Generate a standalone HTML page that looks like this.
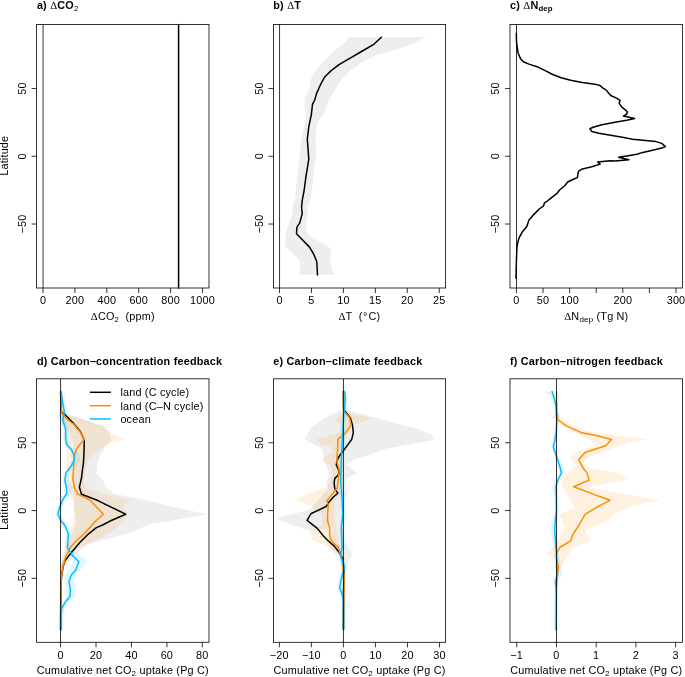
<!DOCTYPE html>
<html><head><meta charset="utf-8"><style>
html,body{margin:0;padding:0;background:#fff;overflow:hidden;width:685px;height:677px;}
svg{display:block;will-change:transform;}
.t{font-family:"Liberation Sans",sans-serif;font-size:10.85px;fill:#000;letter-spacing:0.19px;}
.b{font-family:"Liberation Sans",sans-serif;font-size:10.85px;font-weight:bold;fill:#000;letter-spacing:0.2px;}
.s{font-family:"Liberation Serif",serif;}
</style></head><body>
<svg width="685" height="677" viewBox="0 0 685 677">
<rect width="685" height="677" fill="#fff"/>
<text x="36.9" y="8.8" class="b">a) <tspan class="s" font-weight="normal">Δ</tspan>CO<tspan font-weight="normal" font-size="8px" dy="2">2</tspan></text>
<text x="273.3" y="8.8" class="b">b) <tspan class="s" font-weight="normal">Δ</tspan>T</text>
<text x="510.0" y="8.8" class="b">c) <tspan class="s" font-weight="normal">Δ</tspan>N<tspan font-size="7.8px" dy="2" letter-spacing="0.1px">dep</tspan></text>
<text x="36.9" y="364.5" class="b">d) Carbon–concentration feedback</text>
<text x="273.3" y="364.5" class="b">e) Carbon–climate feedback</text>
<text x="510.0" y="364.5" class="b">f) Carbon–nitrogen feedback</text>
<text x="122.80" y="319.80" text-anchor="middle" class="t"><tspan class="s">Δ</tspan>CO<tspan font-size="7.8px" dy="2">2</tspan><tspan dy="-2">&#160; (ppm)</tspan></text>
<text x="359.40" y="319.80" text-anchor="middle" class="t"><tspan class="s">Δ</tspan>T&#160; (<tspan dx="0.5">°</tspan><tspan dx="0.9">C)</tspan></text>
<text x="596.30" y="319.80" text-anchor="middle" class="t"><tspan class="s">Δ</tspan>N<tspan font-size="8px" dy="2">dep</tspan><tspan dy="-2"> (Tg N)</tspan></text>
<text x="122.80" y="674.00" text-anchor="middle" class="t">Cumulative net CO<tspan font-size="8px" dy="2">2</tspan><tspan dy="-2"> uptake (Pg C)</tspan></text>
<text x="359.50" y="674.00" text-anchor="middle" class="t">Cumulative net CO<tspan font-size="8px" dy="2">2</tspan><tspan dy="-2"> uptake (Pg C)</tspan></text>
<text x="596.30" y="674.00" text-anchor="middle" class="t">Cumulative net CO<tspan font-size="8px" dy="2">2</tspan><tspan dy="-2"> uptake (Pg C)</tspan></text>
<line x1="43.05" y1="24.5" x2="43.05" y2="288.0" stroke="#000" stroke-width="0.8"/>
<polyline points="178.6,24.5 178.6,288.0" fill="none" stroke="#000" stroke-width="1.5" stroke-linejoin="round" stroke-linecap="round" stroke-linecap="butt"/>
<polygon points="349.3,37.2 345.2,42.3 335.0,50.4 320.7,64.7 311.5,77.0 310.4,83.1 309.4,90.3 304.7,98.5 304.4,107.4 306.6,111.8 303.6,129.6 300.7,144.3 299.2,159.1 297.7,173.9 294.8,200.0 293.6,203.3 291.6,216.6 287.0,228.5 285.0,240.5 285.6,247.1 293.6,253.8 299.6,260.4 300.2,267.0 298.9,274.8 334.1,274.8 330.8,265.7 330.1,259.1 330.8,248.4 326.8,245.8 317.5,240.5 308.2,235.2 306.2,229.8 306.2,223.2 307.5,216.6 307.5,209.9 308.9,203.3 311.0,196.0 312.5,185.7 314.0,166.5 316.2,156.2 315.5,144.3 315.5,132.5 317.7,122.2 322.9,114.8 325.8,108.9 328.8,100.5 332.9,93.4 339.0,83.1 347.2,72.9 359.5,63.7 375.8,55.5 396.3,49.4 412.6,44.3 425.9,37.2" fill="#EEEEEE" stroke="none" />
<line x1="279.55" y1="24.5" x2="279.55" y2="288.0" stroke="#000" stroke-width="0.8"/>
<polyline points="381.4,37.2 373.8,44.3 361.5,51.5 349.3,58.6 339.0,64.7 330.9,70.9 324.7,77.0 320.7,84.2 316.6,93.4 314.7,100.0 312.5,104.4 311.3,114.8 308.8,126.6 307.3,139.2 308.8,159.1 305.9,176.8 304.2,190.0 302.2,200.6 301.6,207.3 302.2,213.9 299.6,223.2 296.9,227.2 296.5,233.8 301.6,239.1 309.5,247.1 313.5,253.8 316.8,261.7 317.5,275.0" fill="none" stroke="#000" stroke-width="1.5" stroke-linejoin="round" stroke-linecap="round" />
<line x1="516.50" y1="24.5" x2="516.50" y2="288.0" stroke="#000" stroke-width="0.8"/>
<polyline points="516.3,33.3 516.6,43.2 518.0,52.7 520.4,58.4 523.3,61.8 529.0,64.1 538.5,67.3 544.2,70.1 552.7,74.5 561.2,77.7 570.7,80.2 582.1,82.5 591.6,83.8 596.0,84.4 600.4,85.7 602.6,87.9 606.3,90.1 608.5,93.0 610.7,95.5 616.5,98.1 620.1,100.3 619.1,103.2 621.6,106.9 625.3,109.8 627.4,112.0 626.7,114.2 623.5,115.9 634.7,118.6 626.7,120.3 615.0,122.2 601.9,124.7 593.1,127.3 589.9,128.8 591.7,131.4 599.0,133.2 612.1,135.4 623.8,137.6 632.6,139.3 645.7,140.5 655.9,141.6 661.8,143.4 665.4,146.6 661.8,148.1 651.5,150.4 642.8,152.4 636.9,154.3 628.2,155.8 618.7,157.3 628.9,159.7 615.0,160.9 610.0,160.8 597.6,162.0 600.2,164.1 591.8,166.7 581.5,169.3 578.6,171.1 577.9,174.0 577.4,177.6 572.8,179.5 567.7,182.0 564.7,185.7 559.6,190.0 556.7,193.7 550.9,198.1 548.0,200.5 544.3,203.2 543.6,205.8 539.2,209.0 533.4,214.9 529.0,220.0 526.8,226.5 522.2,232.1 519.1,237.9 517.8,242.3 516.9,248.0 516.4,260.5 516.0,278.2" fill="none" stroke="#000" stroke-width="1.5" stroke-linejoin="round" stroke-linecap="round" />
<polygon points="60.7,391.6 61.5,405.0 64.0,413.5 80.0,418.3 99.7,424.9 103.2,425.8 109.5,433.5 111.3,438.3 111.3,441.8 106.1,445.3 100.8,454.1 97.3,462.8 96.4,474.0 103.4,481.0 104.9,487.0 114.5,494.0 142.6,499.3 177.6,508.0 207.4,514.2 177.6,519.4 151.3,523.8 148.1,525.0 127.1,533.8 102.6,539.9 88.6,544.3 76.3,553.0 67.5,563.5 62.3,570.5 61.0,580.0 60.7,629.8 60.5,629.8 60.5,575.0 61.0,565.0 64.0,555.0 70.0,540.0 76.0,525.0 75.0,514.0 74.0,502.0 73.0,495.0 73.0,485.0 74.0,470.0 75.0,455.0 73.0,440.0 67.0,428.0 62.0,421.0 57.0,418.0 60.5,405.0" fill="#EEEEEE" stroke="none" />
<polygon points="60.7,391.6 61.5,405.0 64.0,413.5 80.0,418.3 99.7,424.9 104.0,426.0 111.4,433.5 126.4,439.2 111.4,442.2 100.9,448.0 92.7,455.0 88.0,459.7 85.1,470.0 84.0,480.0 86.0,488.0 104.0,494.0 131.2,500.1 122.4,507.2 129.4,514.2 121.5,522.0 116.6,528.5 100.0,538.0 88.0,543.0 76.0,550.0 68.0,558.0 64.0,565.0 61.5,575.0 60.7,629.8 60.5,629.8 60.5,580.0 61.0,565.0 63.0,552.0 66.0,540.0 70.0,530.0 73.4,524.0 73.4,500.0 68.0,496.0 66.5,480.0 66.5,465.0 66.5,450.0 66.7,433.0 64.0,420.0 61.0,413.0 60.6,391.6" fill="rgba(255,140,0,0.12)" stroke="none" />
<polygon points="58.6,391.6 59.7,399.8 61.9,412.3 60.8,416.8 60.4,420.5 62.3,426.4 63.2,430.0 63.1,436.0 63.2,439.6 64.3,444.8 68.7,449.2 70.9,453.7 72.0,459.6 68.7,466.2 63.5,472.9 62.4,480.0 63.9,487.4 64.3,493.3 60.6,499.2 57.3,505.9 55.3,514.0 58.2,520.6 62.4,525.5 65.9,533.8 65.0,547.8 70.1,555.7 73.2,561.8 67.7,570.5 65.3,575.0 64.6,581.7 65.6,588.4 66.5,596.2 63.0,601.9 59.4,608.1 58.3,616.4 58.1,629.8 63.6,629.8 63.8,616.4 64.9,608.1 68.6,601.9 75.0,596.2 76.5,588.4 73.5,581.7 74.2,575.0 79.8,570.5 87.6,561.8 80.2,555.7 70.5,547.8 71.4,533.8 67.9,525.5 63.9,520.6 60.9,514.0 63.1,505.9 66.1,499.2 71.5,493.3 73.2,487.4 69.0,480.0 69.0,472.9 75.5,466.2 80.9,459.6 79.3,453.7 75.1,449.2 69.8,444.8 68.7,439.6 68.6,436.0 68.7,430.0 67.8,426.4 65.9,420.5 66.3,416.8 67.4,412.3 65.2,399.8 64.1,391.6" fill="rgba(0,191,255,0.12)" stroke="none" />
<polyline points="60.7,391.6 60.8,405.0 61.4,412.3 64.8,414.5 69.2,419.0 73.6,423.4 77.3,427.8 80.4,431.7 84.3,439.9 83.9,455.0 83.4,463.2 82.4,470.0 81.5,478.0 79.4,487.2 81.5,494.2 97.3,500.3 125.6,514.2 109.6,521.3 102.6,525.0 96.4,527.6 88.6,533.8 79.8,542.5 71.0,553.0 64.9,560.9 63.4,565.3 61.6,575.8 60.8,590.0 60.7,629.8" fill="none" stroke="#000" stroke-width="1.5" stroke-linejoin="round" stroke-linecap="round" />
<polyline points="60.7,391.6 60.9,405.0 61.8,413.1 64.8,416.8 68.5,420.5 73.6,424.1 75.5,426.4 79.9,431.7 84.5,439.3 79.9,444.5 76.4,449.2 74.6,455.0 74.0,460.9 73.4,470.0 72.8,479.3 74.5,488.0 78.0,494.2 90.3,500.3 103.3,514.2 95.6,521.3 92.1,525.0 84.2,533.8 76.3,540.8 70.2,547.8 65.8,556.5 63.2,565.3 61.4,575.8 60.6,595.0 60.6,629.8" fill="none" stroke="#FF8C00" stroke-width="1.5" stroke-linejoin="round" stroke-linecap="round" />
<polyline points="61.1,391.6 62.2,399.8 64.4,412.3 63.3,416.8 62.9,420.5 64.8,426.4 65.7,430.0 65.6,436.0 65.7,439.6 66.8,444.8 71.2,449.2 73.4,453.7 74.5,459.6 71.2,466.2 66.0,472.9 64.9,480.0 66.4,487.4 66.8,493.3 63.1,499.2 60.1,505.9 57.9,514.0 60.9,520.6 64.9,525.5 68.4,533.8 67.5,547.8 72.8,555.7 78.9,561.8 75.4,570.5 71.2,575.0 68.9,581.7 70.3,588.4 70.1,596.2 65.5,601.9 61.9,608.1 60.8,616.4 60.6,629.8" fill="none" stroke="#00BFFF" stroke-width="1.5" stroke-linejoin="round" stroke-linecap="round" />
<line x1="60.55" y1="378.8" x2="60.55" y2="642.3" stroke="#000" stroke-width="0.8"/>
<line x1="89.9" y1="392.3" x2="110.9" y2="392.3" stroke="#000" stroke-width="1.5"/>
<text x="120.4" y="396.2" class="t">land (C cycle)</text>
<line x1="89.9" y1="405.7" x2="110.9" y2="405.7" stroke="#FF8C00" stroke-width="1.5"/>
<text x="120.4" y="409.6" class="t">land (C–N cycle)</text>
<line x1="89.9" y1="419.0" x2="110.9" y2="419.0" stroke="#00BFFF" stroke-width="1.5"/>
<text x="120.4" y="422.9" class="t">ocean</text>
<polygon points="343.4,404.0 347.0,409.9 369.3,416.1 391.7,422.3 416.5,428.5 431.4,434.7 435.1,439.7 414.0,443.4 386.7,448.5 366.8,455.8 354.4,459.6 347.0,464.5 356.9,473.2 347.0,478.2 345.0,485.0 348.0,493.4 344.5,500.0 344.0,520.0 344.0,540.0 352.5,554.8 344.3,569.6 343.6,580.0 343.0,580.0 339.2,557.6 333.4,551.8 327.6,543.0 334.6,527.4 311.5,531.3 294.0,525.5 275.0,518.2 294.0,513.8 310.0,509.4 320.0,498.0 328.4,488.2 326.3,482.0 329.4,473.7 324.3,461.3 322.2,448.9 304.6,439.6 309.7,429.8 319.7,421.1 332.1,413.7 342.0,409.9" fill="#EEEEEE" stroke="none" />
<polygon points="343.7,408.9 351.1,413.5 373.0,418.6 352.0,424.8 349.0,432.0 344.0,440.0 341.5,448.0 342.0,458.0 344.0,468.0 343.0,480.0 342.0,492.0 336.0,500.0 334.0,510.0 335.0,520.0 336.0,530.0 338.0,542.0 343.0,552.0 344.5,560.0 344.5,590.0 343.5,590.0 341.0,560.0 339.8,554.3 326.3,546.0 311.9,539.8 310.8,531.6 322.0,524.0 322.0,514.0 311.9,506.8 294.3,499.5 326.3,487.1 332.0,478.0 332.0,470.0 329.4,464.4 320.1,459.3 332.5,453.1 331.5,446.9 321.2,444.8 316.0,439.6 337.7,433.4 341.0,427.0 335.0,419.3 342.0,413.0" fill="rgba(255,140,0,0.12)" stroke="none" />
<polygon points="342.5,391.6 343.3,397.0 343.0,404.0 341.7,414.8 340.5,437.0 339.4,459.2 338.7,481.4 340.2,500.1 340.9,513.8 339.4,528.4 339.9,543.0 340.1,547.4 338.6,554.8 342.3,568.1 340.1,575.5 336.9,587.3 341.6,599.1 341.6,629.4 346.1,629.4 346.1,599.1 342.1,587.3 344.6,575.5 346.8,568.1 343.1,554.8 344.6,547.4 344.4,543.0 343.9,528.4 346.5,513.8 345.1,500.1 343.2,481.4 344.0,459.2 345.5,437.0 346.2,414.8 347.5,404.0 347.8,397.0 347.0,391.6" fill="rgba(0,191,255,0.12)" stroke="none" />
<polyline points="343.4,391.6 343.5,404.0 343.7,408.9 345.9,412.6 350.3,417.8 352.5,425.1 353.3,432.5 351.8,439.2 348.1,444.4 343.7,450.3 339.2,456.2 337.0,460.7 336.3,465.1 338.5,469.5 339.2,474.0 334.8,478.4 334.1,482.8 334.8,488.8 337.8,493.2 333.4,497.0 329.0,502.1 326.1,506.5 310.8,513.8 307.1,520.4 317.3,528.4 323.2,535.7 327.3,540.0 334.0,545.9 339.9,553.3 342.9,559.2 344.0,569.6 343.5,596.0 343.4,629.4" fill="none" stroke="#000" stroke-width="1.5" stroke-linejoin="round" stroke-linecap="round" />
<polyline points="343.4,392.3 343.4,408.9 344.4,411.8 349.6,417.8 351.1,425.1 348.1,429.6 343.7,434.8 337.8,439.2 337.8,447.3 337.0,456.2 337.0,462.1 339.2,469.5 338.5,478.4 337.0,488.8 331.8,494.7 327.4,500.1 326.8,500.7 328.3,505.0 327.6,513.8 327.6,521.1 329.7,528.4 329.7,535.7 331.0,540.0 333.4,543.0 338.4,547.4 340.6,554.8 342.9,563.6 344.0,577.0 344.0,594.7 343.6,629.4" fill="none" stroke="#FF8C00" stroke-width="1.5" stroke-linejoin="round" stroke-linecap="round" />
<polyline points="344.5,391.6 345.3,397.0 345.0,404.0 343.7,414.8 342.5,437.0 341.4,459.2 340.7,481.4 342.2,500.1 342.9,513.8 341.4,528.4 341.9,543.0 342.1,547.4 340.6,554.8 344.3,568.1 342.1,575.5 339.6,587.3 343.6,599.1 343.6,629.4" fill="none" stroke="#00BFFF" stroke-width="1.5" stroke-linejoin="round" stroke-linecap="round" />
<line x1="343.45" y1="378.8" x2="343.45" y2="642.3" stroke="#000" stroke-width="0.8"/>
<polygon points="556.7,405.0 558.0,413.0 562.5,419.0 580.0,429.5 598.4,433.2 625.0,436.5 648.3,439.2 630.0,442.0 620.0,446.0 601.2,452.5 586.3,458.6 583.6,463.9 585.4,467.0 593.3,468.3 617.7,472.9 629.9,479.0 607.4,483.1 589.0,487.2 625.0,494.0 660.6,500.5 632.0,506.1 613.6,514.3 605.4,522.5 585.0,530.7 591.1,540.9 572.7,548.0 564.5,561.3 560.4,569.5 557.0,575.0 556.6,590.0 556.0,590.0 556.0,575.0 555.3,561.3 546.1,554.2 553.0,547.0 560.4,535.8 564.5,526.6 559.4,514.3 574.7,507.7 568.6,497.4 562.5,487.2 560.4,477.0 565.3,473.5 576.6,465.6 570.9,458.6 572.3,453.4 595.9,445.5 590.6,440.3 579.3,435.0 568.4,429.5 559.0,423.7 556.7,420.2 551.4,418.4 556.7,412.0 556.3,405.0" fill="rgba(255,140,0,0.12)" stroke="none" />
<polygon points="545.5,391.6 551.9,399.6 554.1,406.9 554.8,421.5 554.1,433.2 552.6,441.9 551.3,446.3 554.4,456.6 557.4,464.7 559.5,472.9 555.2,479.0 551.5,486.2 554.4,499.5 554.4,511.7 551.7,520.4 550.6,530.7 554.3,551.1 555.4,574.6 553.3,581.7 554.3,590.0 554.2,630.0 558.2,630.0 558.3,590.0 557.3,581.7 562.8,574.6 558.3,551.1 556.7,530.7 557.3,520.4 558.4,511.7 558.4,499.5 557.9,486.2 560.4,479.0 563.5,472.9 563.5,464.7 558.4,456.6 555.3,446.3 556.6,441.9 558.1,433.2 558.8,421.5 558.1,406.9 556.6,399.6 554.0,391.6" fill="rgba(0,191,255,0.12)" stroke="none" />
<polyline points="556.5,391.6 556.8,411.3 558.2,420.0 566.3,425.9 580.9,432.4 598.4,436.1 611.5,439.4 605.5,445.8 592.6,450.0 585.0,452.5 578.8,459.6 582.9,467.8 587.0,472.9 589.0,480.1 573.7,486.8 591.1,493.4 610.0,500.3 598.3,506.3 585.0,514.3 578.8,525.5 572.7,534.7 570.7,540.9 560.4,547.0 557.4,551.1 556.3,556.2 558.4,567.4 557.4,575.6 556.3,590.0 556.2,630.0" fill="none" stroke="#FF8C00" stroke-width="1.5" stroke-linejoin="round" stroke-linecap="round" />
<polyline points="552.0,391.6 554.6,399.6 556.1,406.9 556.8,421.5 556.1,433.2 554.6,441.9 553.3,446.3 556.4,456.6 559.4,464.7 561.5,472.9 558.4,479.0 555.9,486.2 556.4,499.5 556.4,511.7 555.3,520.4 554.7,530.7 556.3,551.1 557.4,574.6 555.3,581.7 556.3,590.0 556.2,630.0" fill="none" stroke="#00BFFF" stroke-width="1.5" stroke-linejoin="round" stroke-linecap="round" />
<line x1="556.50" y1="378.8" x2="556.50" y2="642.3" stroke="#000" stroke-width="0.8"/>
<rect x="36.6" y="24.5" width="172.40" height="263.50" fill="none" stroke="#000" stroke-width="0.8"/>
<line x1="31.60" y1="88.48" x2="36.6" y2="88.48" stroke="#000" stroke-width="0.8"/>
<text x="26.00" y="88.48" transform="rotate(-90 26.00 88.48)" text-anchor="middle" class="t">50</text>
<line x1="31.60" y1="156.25" x2="36.6" y2="156.25" stroke="#000" stroke-width="0.8"/>
<text x="26.00" y="156.25" transform="rotate(-90 26.00 156.25)" text-anchor="middle" class="t">0</text>
<line x1="31.60" y1="224.02" x2="36.6" y2="224.02" stroke="#000" stroke-width="0.8"/>
<text x="26.00" y="224.02" transform="rotate(-90 26.00 224.02)" text-anchor="middle" class="t">−50</text>
<line x1="43.00" y1="288.0" x2="43.00" y2="293.00" stroke="#000" stroke-width="0.8"/>
<text x="43.00" y="304.30" text-anchor="middle" class="t">0</text>
<line x1="74.91" y1="288.0" x2="74.91" y2="293.00" stroke="#000" stroke-width="0.8"/>
<text x="74.91" y="304.30" text-anchor="middle" class="t">200</text>
<line x1="106.82" y1="288.0" x2="106.82" y2="293.00" stroke="#000" stroke-width="0.8"/>
<text x="106.82" y="304.30" text-anchor="middle" class="t">400</text>
<line x1="138.73" y1="288.0" x2="138.73" y2="293.00" stroke="#000" stroke-width="0.8"/>
<text x="138.73" y="304.30" text-anchor="middle" class="t">600</text>
<line x1="170.64" y1="288.0" x2="170.64" y2="293.00" stroke="#000" stroke-width="0.8"/>
<text x="170.64" y="304.30" text-anchor="middle" class="t">800</text>
<line x1="202.55" y1="288.0" x2="202.55" y2="293.00" stroke="#000" stroke-width="0.8"/>
<text x="202.55" y="304.30" text-anchor="middle" class="t">1000</text>
<rect x="273.5" y="24.5" width="172.10" height="263.50" fill="none" stroke="#000" stroke-width="0.8"/>
<line x1="268.50" y1="88.48" x2="273.5" y2="88.48" stroke="#000" stroke-width="0.8"/>
<text x="262.90" y="88.48" transform="rotate(-90 262.90 88.48)" text-anchor="middle" class="t">50</text>
<line x1="268.50" y1="156.25" x2="273.5" y2="156.25" stroke="#000" stroke-width="0.8"/>
<text x="262.90" y="156.25" transform="rotate(-90 262.90 156.25)" text-anchor="middle" class="t">0</text>
<line x1="268.50" y1="224.02" x2="273.5" y2="224.02" stroke="#000" stroke-width="0.8"/>
<text x="262.90" y="224.02" transform="rotate(-90 262.90 224.02)" text-anchor="middle" class="t">−50</text>
<line x1="279.50" y1="288.0" x2="279.50" y2="293.00" stroke="#000" stroke-width="0.8"/>
<text x="279.50" y="304.30" text-anchor="middle" class="t">0</text>
<line x1="311.45" y1="288.0" x2="311.45" y2="293.00" stroke="#000" stroke-width="0.8"/>
<text x="311.45" y="304.30" text-anchor="middle" class="t">5</text>
<line x1="343.40" y1="288.0" x2="343.40" y2="293.00" stroke="#000" stroke-width="0.8"/>
<text x="343.40" y="304.30" text-anchor="middle" class="t">10</text>
<line x1="375.35" y1="288.0" x2="375.35" y2="293.00" stroke="#000" stroke-width="0.8"/>
<text x="375.35" y="304.30" text-anchor="middle" class="t">15</text>
<line x1="407.30" y1="288.0" x2="407.30" y2="293.00" stroke="#000" stroke-width="0.8"/>
<text x="407.30" y="304.30" text-anchor="middle" class="t">20</text>
<line x1="439.25" y1="288.0" x2="439.25" y2="293.00" stroke="#000" stroke-width="0.8"/>
<text x="439.25" y="304.30" text-anchor="middle" class="t">25</text>
<rect x="510.0" y="24.5" width="172.50" height="263.50" fill="none" stroke="#000" stroke-width="0.8"/>
<line x1="505.00" y1="88.48" x2="510.0" y2="88.48" stroke="#000" stroke-width="0.8"/>
<text x="499.40" y="88.48" transform="rotate(-90 499.40 88.48)" text-anchor="middle" class="t">50</text>
<line x1="505.00" y1="156.25" x2="510.0" y2="156.25" stroke="#000" stroke-width="0.8"/>
<text x="499.40" y="156.25" transform="rotate(-90 499.40 156.25)" text-anchor="middle" class="t">0</text>
<line x1="505.00" y1="224.02" x2="510.0" y2="224.02" stroke="#000" stroke-width="0.8"/>
<text x="499.40" y="224.02" transform="rotate(-90 499.40 224.02)" text-anchor="middle" class="t">−50</text>
<line x1="516.45" y1="288.0" x2="516.45" y2="293.00" stroke="#000" stroke-width="0.8"/>
<text x="516.45" y="304.30" text-anchor="middle" class="t">0</text>
<line x1="543.04" y1="288.0" x2="543.04" y2="293.00" stroke="#000" stroke-width="0.8"/>
<text x="543.04" y="304.30" text-anchor="middle" class="t">50</text>
<line x1="569.63" y1="288.0" x2="569.63" y2="293.00" stroke="#000" stroke-width="0.8"/>
<text x="569.63" y="304.30" text-anchor="middle" class="t">100</text>
<line x1="596.23" y1="288.0" x2="596.23" y2="293.00" stroke="#000" stroke-width="0.8"/>
<line x1="622.82" y1="288.0" x2="622.82" y2="293.00" stroke="#000" stroke-width="0.8"/>
<text x="622.82" y="304.30" text-anchor="middle" class="t">200</text>
<line x1="649.41" y1="288.0" x2="649.41" y2="293.00" stroke="#000" stroke-width="0.8"/>
<line x1="676.00" y1="288.0" x2="676.00" y2="293.00" stroke="#000" stroke-width="0.8"/>
<text x="676.00" y="304.30" text-anchor="middle" class="t">300</text>
<rect x="36.6" y="378.8" width="172.40" height="263.50" fill="none" stroke="#000" stroke-width="0.8"/>
<line x1="31.60" y1="442.77" x2="36.6" y2="442.77" stroke="#000" stroke-width="0.8"/>
<text x="26.00" y="442.77" transform="rotate(-90 26.00 442.77)" text-anchor="middle" class="t">50</text>
<line x1="31.60" y1="510.55" x2="36.6" y2="510.55" stroke="#000" stroke-width="0.8"/>
<text x="26.00" y="510.55" transform="rotate(-90 26.00 510.55)" text-anchor="middle" class="t">0</text>
<line x1="31.60" y1="578.32" x2="36.6" y2="578.32" stroke="#000" stroke-width="0.8"/>
<text x="26.00" y="578.32" transform="rotate(-90 26.00 578.32)" text-anchor="middle" class="t">−50</text>
<line x1="60.60" y1="642.3" x2="60.60" y2="647.30" stroke="#000" stroke-width="0.8"/>
<text x="60.60" y="658.60" text-anchor="middle" class="t">0</text>
<line x1="96.03" y1="642.3" x2="96.03" y2="647.30" stroke="#000" stroke-width="0.8"/>
<text x="96.03" y="658.60" text-anchor="middle" class="t">20</text>
<line x1="131.45" y1="642.3" x2="131.45" y2="647.30" stroke="#000" stroke-width="0.8"/>
<text x="131.45" y="658.60" text-anchor="middle" class="t">40</text>
<line x1="166.88" y1="642.3" x2="166.88" y2="647.30" stroke="#000" stroke-width="0.8"/>
<text x="166.88" y="658.60" text-anchor="middle" class="t">60</text>
<line x1="202.30" y1="642.3" x2="202.30" y2="647.30" stroke="#000" stroke-width="0.8"/>
<text x="202.30" y="658.60" text-anchor="middle" class="t">80</text>
<rect x="273.5" y="378.8" width="172.10" height="263.50" fill="none" stroke="#000" stroke-width="0.8"/>
<line x1="268.50" y1="442.77" x2="273.5" y2="442.77" stroke="#000" stroke-width="0.8"/>
<text x="262.90" y="442.77" transform="rotate(-90 262.90 442.77)" text-anchor="middle" class="t">50</text>
<line x1="268.50" y1="510.55" x2="273.5" y2="510.55" stroke="#000" stroke-width="0.8"/>
<text x="262.90" y="510.55" transform="rotate(-90 262.90 510.55)" text-anchor="middle" class="t">0</text>
<line x1="268.50" y1="578.32" x2="273.5" y2="578.32" stroke="#000" stroke-width="0.8"/>
<text x="262.90" y="578.32" transform="rotate(-90 262.90 578.32)" text-anchor="middle" class="t">−50</text>
<line x1="279.33" y1="642.3" x2="279.33" y2="647.30" stroke="#000" stroke-width="0.8"/>
<text x="279.33" y="658.60" text-anchor="middle" class="t">−20</text>
<line x1="311.37" y1="642.3" x2="311.37" y2="647.30" stroke="#000" stroke-width="0.8"/>
<text x="311.37" y="658.60" text-anchor="middle" class="t">−10</text>
<line x1="343.40" y1="642.3" x2="343.40" y2="647.30" stroke="#000" stroke-width="0.8"/>
<text x="343.40" y="658.60" text-anchor="middle" class="t">0</text>
<line x1="375.43" y1="642.3" x2="375.43" y2="647.30" stroke="#000" stroke-width="0.8"/>
<text x="375.43" y="658.60" text-anchor="middle" class="t">10</text>
<line x1="407.47" y1="642.3" x2="407.47" y2="647.30" stroke="#000" stroke-width="0.8"/>
<text x="407.47" y="658.60" text-anchor="middle" class="t">20</text>
<line x1="439.50" y1="642.3" x2="439.50" y2="647.30" stroke="#000" stroke-width="0.8"/>
<text x="439.50" y="658.60" text-anchor="middle" class="t">30</text>
<rect x="510.0" y="378.8" width="172.50" height="263.50" fill="none" stroke="#000" stroke-width="0.8"/>
<line x1="505.00" y1="442.77" x2="510.0" y2="442.77" stroke="#000" stroke-width="0.8"/>
<text x="499.40" y="442.77" transform="rotate(-90 499.40 442.77)" text-anchor="middle" class="t">50</text>
<line x1="505.00" y1="510.55" x2="510.0" y2="510.55" stroke="#000" stroke-width="0.8"/>
<text x="499.40" y="510.55" transform="rotate(-90 499.40 510.55)" text-anchor="middle" class="t">0</text>
<line x1="505.00" y1="578.32" x2="510.0" y2="578.32" stroke="#000" stroke-width="0.8"/>
<text x="499.40" y="578.32" transform="rotate(-90 499.40 578.32)" text-anchor="middle" class="t">−50</text>
<line x1="516.73" y1="642.3" x2="516.73" y2="647.30" stroke="#000" stroke-width="0.8"/>
<text x="516.73" y="658.60" text-anchor="middle" class="t">−1</text>
<line x1="556.45" y1="642.3" x2="556.45" y2="647.30" stroke="#000" stroke-width="0.8"/>
<text x="556.45" y="658.60" text-anchor="middle" class="t">0</text>
<line x1="596.17" y1="642.3" x2="596.17" y2="647.30" stroke="#000" stroke-width="0.8"/>
<text x="596.17" y="658.60" text-anchor="middle" class="t">1</text>
<line x1="635.88" y1="642.3" x2="635.88" y2="647.30" stroke="#000" stroke-width="0.8"/>
<text x="635.88" y="658.60" text-anchor="middle" class="t">2</text>
<line x1="675.60" y1="642.3" x2="675.60" y2="647.30" stroke="#000" stroke-width="0.8"/>
<text x="675.60" y="658.60" text-anchor="middle" class="t">3</text>
<text x="8.35" y="155.75" transform="rotate(-90 8.35 155.75)" text-anchor="middle" class="t">Latitude</text>
<text x="8.35" y="510.05" transform="rotate(-90 8.35 510.05)" text-anchor="middle" class="t">Latitude</text>
</svg>
</body></html>
